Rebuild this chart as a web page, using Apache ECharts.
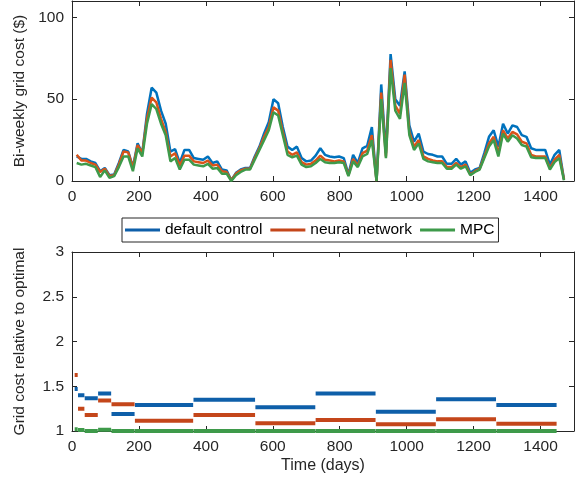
<!DOCTYPE html>
<html>
<head>
<meta charset="utf-8">
<script src="https://cdn.jsdelivr.net/npm/echarts@6/dist/echarts.min.js"></script>
<style>
html,body{margin:0;padding:0;background:#fff;}
#chart{width:579px;height:489px;}
</style>
</head>
<body>
<div id="chart"></div>
<script>
// ---- Top panel: bi-weekly grid cost ($) ----
var days = [14,28,42,56,70,84,98,112,126,140,154,168,182,196,210,224,238,252,266,280,
294,308,322,336,350,364,378,392,406,420,434,448,462,476,490,504,518,532,546,560,
574,588,602,616,630,644,658,672,686,700,714,728,742,756,770,784,798,812,826,840,
854,868,882,896,910,924,938,952,966,980,994,1008,1022,1036,1050,1064,1078,1092,1106,1120,
1134,1148,1162,1176,1190,1204,1218,1232,1246,1260,1274,1288,1302,1316,1330,1344,1358,1372,1386,1400,
1414,1428,1442,1456,1470];

var defaultCost = [15,13.5,13.5,12,11,6,8,3.5,4,11,19,18,8.5,23,17,41,57,54,43,35,
18,19.5,11,19,19,14,13.5,13,15,11,12,7,6.5,0.5,5,7,8,8,15,21,
29,36,50,47.5,33,21,19,21,14,12,12.5,15.5,20,16,15,14.5,15,14,4,16,
11,20,21.5,33,0,59,17,77.5,50,46,67,34,24,29,18,16.5,16,15,15,10.5,
10.5,13.5,10,12,5,7,8,17,27,31,21,35,29,34,33,28,27,20,19,19,
19,10,16,19,1];

var nnCost = [16,12.5,12.5,11,10,5.5,7.5,3,3.5,10,18,17.5,8,22,17,38,51,48,38,30,
15,17,9.5,15.5,15.5,12,11.5,11,12.5,9.5,10,6,5.5,0.5,4.5,6.5,7.5,7.5,14,20,
27,33,45,43,30,18,16,17.5,11.5,10,10.5,12.5,15.5,13,12.5,12,12.5,12,3.5,13.5,
9.5,17,18.5,28,0,54,15,74,46,41,65,30,21,25,15,13.5,12.5,12,12,8.5,
8.5,11,8.5,10,4,6,7.5,15,23,27,17,31,26,30,28.5,24,23,16,15,15,
15,8,13,16,1];

var mpcCost = [11,10,10.5,9.5,8.5,2.5,6.5,2,3,8.5,15,15,6,20,15,35,47,44,35,28,
12,14,7,13,13,10,9.5,9,10.5,7.5,8,4.5,4.5,0,3.5,5.5,7,7,13,19,
25,31,42,40,28,16,14.5,15.5,10,8.5,9,11,13.5,11.5,11,11,11.5,11,3,12,
8.5,15,16.5,25,0,50,14,69,43,38,60,28,19,23,13.5,12,11.5,11,11,7.5,
7.5,10,7.5,9,3.5,5.5,7,14,21,25,15,29,24,28,26,22,21,14.5,14,14,
14,7,11.5,14,0.5];

// ---- Bottom panel: grid cost relative to optimal (piecewise constant) ----
var segStart = [8,18,38,78,118,188,363,548,728,908,1088,1268];
var segEnd   = [17,37,77,117,187,362,547,727,907,1087,1267,1448];
var defaultRel = [1.47,1.40,1.365,1.42,1.19,1.29,1.35,1.265,1.42,1.215,1.355,1.29];
var nnRel      = [1.625,1.25,1.18,1.34,1.30,1.115,1.18,1.086,1.123,1.075,1.13,1.082];
var mpcRel     = [1.02,1.01,1.0,1.015,1.0,1.0,1.0,1.0,1.0,1.0,1.0,1.0];

var xTicks = [0,200,400,600,800,1000,1200,1400];
var yTopTicks = [0,50,100];
var yBotTicks = [1,1.5,2,2.5,3];

var names = ['default control','neural network','MPC'];
var topColors = ['#0072BD','#D95319','#3E9A4A'];
var botColors = ['#0E5FA9','#C4461A','#3E9A4A'];

var AX = '#262626';
var FONT = 'Liberation Sans';
var TICKFS = 15.5;

function pairs(xs, ys){ return xs.map(function(x,i){ return [x, ys[i]]; }); }
function steps(vals){
  var out = [];
  for (var i=0;i<vals.length;i++){
    out.push([segStart[i], vals[i]]);
    out.push([segEnd[i], vals[i]]);
    out.push([segEnd[i], '-']);
  }
  return out;
}
function plain(v){ return String(v); }

function xAx(grid, pos, showLabel, name){
  return {
    type:'value', gridIndex:grid, position:pos, min:0, max:1500,
    axisLine:{show:true, onZero:false, lineStyle:{color:AX,width:1}},
    axisTick:{show:true, inside:true, length:5, customValues:xTicks, lineStyle:{color:AX}},
    axisLabel:{show:showLabel, customValues:xTicks, formatter:plain, color:AX, fontSize:TICKFS, fontFamily:FONT, margin:8},
    splitLine:{show:false},
    name: name || '', nameLocation:'middle', nameGap:27,
    nameTextStyle:{color:AX, fontSize:16, fontFamily:FONT}
  };
}
function yAx(grid, pos, showLabel, min, max, ticks, name){
  return {
    type:'value', gridIndex:grid, position:pos, min:min, max:max,
    axisLine:{show:true, onZero:false, lineStyle:{color:AX,width:1}},
    axisTick:{show:true, inside:true, length:5, customValues:ticks, lineStyle:{color:AX}},
    axisLabel:{show:showLabel, customValues:ticks, formatter:plain, color:AX, fontSize:TICKFS, fontFamily:FONT, margin:8},
    splitLine:{show:false},
    name: name || '', nameLocation:'middle', nameGap:44, nameRotate:90,
    nameTextStyle:{color:AX, fontSize:15.5, fontFamily:FONT}
  };
}

var series = [];
for (var k=0;k<3;k++){
  var arr = [defaultCost, nnCost, mpcCost][k];
  series.push({
    name: names[k] + ' cost', type:'line', xAxisIndex:0, yAxisIndex:0,
    data: pairs(days, arr), showSymbol:false, symbol:'none',
    lineStyle:{color:topColors[k], width:2.5}, itemStyle:{color:topColors[k]},
    z: 2+k, animation:false, clip:false
  });
}
for (var k2=0;k2<3;k2++){
  var arr2 = [defaultRel, nnRel, mpcRel][k2];
  series.push({
    name: names[k2], type:'line', xAxisIndex:2, yAxisIndex:2,
    data: steps(arr2), showSymbol:false, symbol:'none', connectNulls:false,
    lineStyle:{color:botColors[k2], width:4, cap:'butt'}, itemStyle:{color:botColors[k2]},
    z: 2+k2, animation:false, clip:false
  });
}

var option = {
  animation:false,
  backgroundColor:'#fff',
  textStyle:{fontFamily:FONT},
  grid:[
    {left:72, right:5, top:1, height:180, outerBoundsMode:'none'},
    {left:72, right:5, top:252, bottom:58, outerBoundsMode:'none'}
  ],
  xAxis:[
    xAx(0,'bottom',true),
    xAx(0,'top',false),
    xAx(1,'bottom',true,'Time (days)'),
    xAx(1,'top',false)
  ],
  yAxis:[
    yAx(0,'left',true,0,110,yTopTicks,'Bi-weekly grid cost ($)'),
    yAx(0,'right',false,0,110,yTopTicks),
    yAx(1,'left',true,1,3,yBotTicks,'Grid cost relative to optimal'),
    yAx(1,'right',false,1,3,yBotTicks)
  ],
  legend:{
    data:names, left:122, top:218, orient:'horizontal',
    icon:'rect', itemWidth:35, itemHeight:3, itemGap:8,
    padding:[4,4,4,3], borderColor:AX, borderWidth:1, backgroundColor:'#fff',
    textStyle:{color:'#000', fontSize:15.5, fontFamily:FONT}
  },
  series:series
};
var chart = echarts.init(document.getElementById('chart'), null, {renderer:'canvas'});
chart.setOption(option);
</script>
</body>
</html>
